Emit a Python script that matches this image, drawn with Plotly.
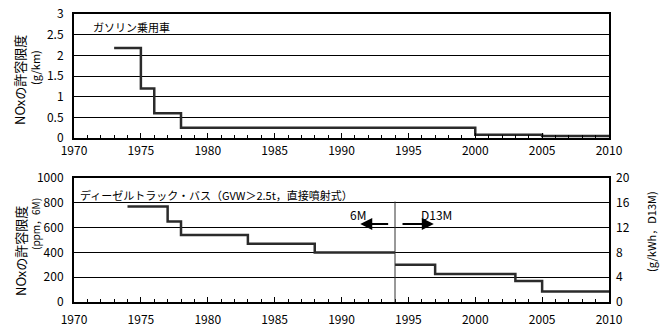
import plotly.graph_objects as go

# Gasoline passenger cars (g/km)
gas_years = [1973, 1975, 1976, 1978, 2000, 2005, 2010]
gas_nox = [2.18, 1.2, 0.6, 0.25, 0.08, 0.05, 0.05]

# Diesel trucks/buses, 6M mode (ppm)
d6m_years = [1974, 1977, 1978, 1983, 1988, 1994]
d6m_nox = [770, 650, 540, 470, 400, 400]

# Diesel trucks/buses, D13M mode (g/kWh)
d13_years = [1994, 1997, 2003, 2005, 2010]
d13_nox = [6.0, 4.5, 3.4, 1.7, 1.7]

x_ticks = [1970, 1975, 1980, 1985, 1990, 1995, 2000, 2005, 2010]

FONT = "Noto Sans CJK JP, Noto Sans, sans-serif"
LINE = "#2b2b2b"

fig = go.Figure()
fig.add_trace(go.Scatter(x=gas_years, y=gas_nox, mode="lines", line=dict(shape="hv", color=LINE, width=2.5),
                         xaxis="x", yaxis="y", showlegend=False, hoverinfo="skip"))
fig.add_trace(go.Scatter(x=d6m_years, y=d6m_nox, mode="lines", line=dict(shape="hv", color=LINE, width=2.5),
                         xaxis="x2", yaxis="y2", showlegend=False, hoverinfo="skip"))
fig.add_trace(go.Scatter(x=d13_years, y=d13_nox, mode="lines", line=dict(shape="hv", color=LINE, width=2.5),
                         xaxis="x2", yaxis="y3", showlegend=False, hoverinfo="skip"))

xcommon = dict(range=[1970, 2010], tickvals=x_ticks, ticks="inside", ticklen=5, tickwidth=1, tickcolor="black",
               minor=dict(dtick=1, tick0=1970, ticks="inside", ticklen=3, tickwidth=1, tickcolor="black"),
               showgrid=False, zeroline=False, showline=True, linecolor="black", linewidth=2, mirror=True,
               automargin=False,
               tickfont=dict(size=12, color="black", family=FONT))
ycommon = dict(ticks="", showgrid=True, gridcolor="black", gridwidth=1, zeroline=False,
               showline=True, linecolor="black", linewidth=2, mirror=True, automargin=False,
               tickfont=dict(size=12, color="black", family=FONT), ticklabelstandoff=6)

top_dom = [1 - 124 / 288, 1]
bot_dom = [0, 124 / 288]

fig.update_layout(
    width=666, height=326,
    margin=dict(l=74, r=57, t=14, b=24, autoexpand=False),
    paper_bgcolor="white", plot_bgcolor="white",
    font=dict(family=FONT, size=12, color="black"),
    xaxis=dict(**xcommon, anchor="y", domain=[0, 1], ticklabelstandoff=1),
    yaxis=dict(**ycommon, range=[0, 3], tickvals=[0, 0.5, 1, 1.5, 2, 2.5, 3],
               ticktext=["0", "0.5", "1", "1.5", "2", "2.5", "3"], domain=top_dom, anchor="x"),
    xaxis2=dict(**xcommon, anchor="y2", domain=[0, 1], ticklabelstandoff=6),
    yaxis2=dict(**ycommon, range=[0, 1000], dtick=200, domain=bot_dom, anchor="x2"),
    yaxis3=dict(range=[0, 20], dtick=4, overlaying="y2", side="right", anchor="x2", showgrid=False,
                zeroline=False, ticks="", showline=False, automargin=False,
                tickfont=dict(size=12, color="black", family=FONT), ticklabelstandoff=6),
)

def px_x(px):
    return (px - 74) / 535

def px_y(py):
    return (302 - py) / 288

ann = [
    dict(text="ガソリン乗用車", x=1971.3, y=2.685, xref="x", yref="y", xanchor="left", yanchor="middle",
         showarrow=False, font=dict(size=11)),
    dict(text="ディーゼルトラック・バス（GVW＞2.5t，直接噴射式）", x=1970.3, y=863, xref="x2", yref="y2",
         xanchor="left", yanchor="middle", showarrow=False, font=dict(size=11)),
    dict(text="6M", x=1991.2, y=705, xref="x2", yref="y2", showarrow=False, font=dict(size=12)),
    dict(text="D13M", x=1997.1, y=705, xref="x2", yref="y2", showarrow=False, font=dict(size=12)),
    # arrows
    dict(text="", x=1991.4, y=629, ax=1993.6, ay=629, xref="x2", yref="y2", axref="x2", ayref="y2",
         showarrow=True, arrowhead=2, arrowsize=1.2, arrowwidth=2, arrowcolor="black"),
    dict(text="", x=1996.9, y=629, ax=1994.45, ay=629, xref="x2", yref="y2", axref="x2", ayref="y2",
         showarrow=True, arrowhead=2, arrowsize=1.2, arrowwidth=2, arrowcolor="black"),
]
titles = [
    ("NOxの許容限度", 20, 80, 13),
    ("(g/km)", 35, 68, 11),
    ("NOxの許容限度", 20, 251, 13),
    ("(ppm，6M)", 35, 224, 10),
    ("(g/kWh，D13M)", 651, 232, 11),
]
for txt, px, py, sz in titles:
    ann.append(dict(text=txt, x=px_x(px), y=px_y(py), xref="paper", yref="paper", textangle=-90,
                    xanchor="center", yanchor="middle", showarrow=False, font=dict(size=sz)))
fig.update_layout(annotations=ann)

fig.add_shape(type="line", x0=1994, x1=1994, y0=0, y1=810, xref="x2", yref="y2",
              line=dict(color="#333333", width=1))

fig.write_html("out.html")
